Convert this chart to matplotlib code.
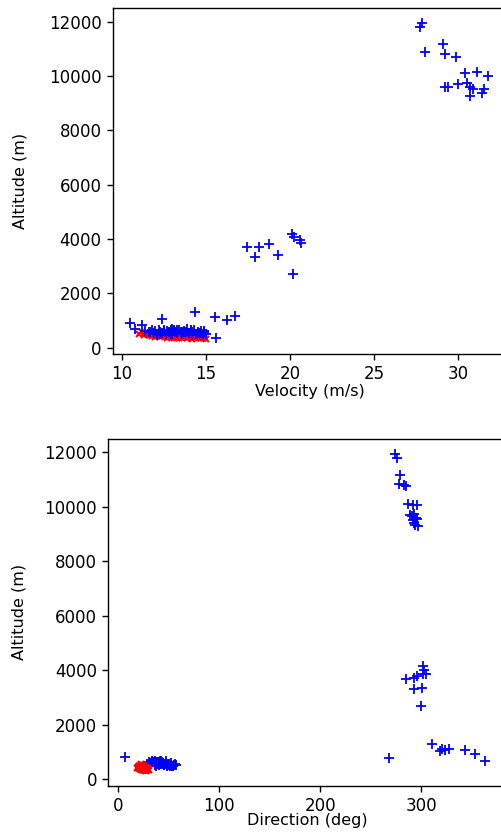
import matplotlib
matplotlib.use("Agg")
import matplotlib.pyplot as plt

# ---------------- data ----------------
# Blue series: upper-air soundings (velocity m/s, altitude m) for the top panel
hi_vel = [27.87, 27.75, 28.0, 29.08, 29.2, 29.86, 30.42, 31.13, 31.79, 29.2, 29.4,
          29.96, 30.51, 30.72, 30.9, 30.72, 31.53, 31.39]
hi_alt_v = [11960, 11815, 10870, 11190, 10800, 10690, 10100, 10135, 10000, 9585, 9605,
            9705, 9730, 9585, 9510, 9265, 9510, 9365]
mid_vel = [20.11, 20.21, 20.6, 20.64, 18.75, 17.46, 18.16, 19.31, 17.92, 20.15]
mid_alt_v = [4173, 4085, 3964, 3842, 3805, 3717, 3717, 3412, 3350, 2700]
low_vel = [10.5, 10.8, 11.2, 12.4, 14.35, 15.55, 16.23, 16.7, 15.6]
low_alt_v = [920, 680, 835, 1070, 1300, 1118, 1020, 1160, 375]

# Blue series for the bottom panel (direction deg, altitude m)
hi_dir = [274, 276, 279, 278, 283, 285, 287, 292, 296, 289, 291, 293, 295, 292, 296,
          294, 297, 293]
hi_alt_d = [11950, 11800, 11150, 10850, 10800, 10750, 10100, 10050, 10050, 9700, 9650,
            9750, 9600, 9500, 9550, 9350, 9300, 9400]
mid_dir = [301.6, 302.7, 302.0, 304.4, 295.4, 293.0, 284.5, 301.0, 292.8, 299.7]
mid_alt_d = [4147, 4025, 3880, 3880, 3780, 3730, 3695, 3365, 3330, 2680]
low_dir = [6.6, 268.3, 310.6, 318.5, 321.0, 323.8, 327.7, 343.6, 353.5, 363.4]
low_alt_d = [820, 780, 1285, 1030, 1110, 1065, 1125, 1065, 930, 660]

# Blue near-surface cluster (shared altitude)
sfc_vel = [11.4, 11.6, 11.8, 11.9, 12.0, 12.1, 12.2, 12.3, 12.4, 12.5, 12.6, 12.7,
           12.8, 12.9, 13.0, 13.1, 13.2, 13.3, 13.4, 13.5, 13.6, 13.7, 13.8, 13.9,
           14.0, 14.1, 14.2, 14.3, 14.4, 14.5, 14.6, 14.7, 14.8, 14.9, 15.0, 12.1,
           12.5, 12.9, 13.3, 13.7, 14.1, 14.5, 14.9, 11.7, 12.3, 13.1, 13.6, 14.2,
           14.7, 13.0]
sfc_dir = [30, 28, 33, 36, 31, 40, 35, 38, 42, 33, 45, 37, 41, 36, 48, 39, 44, 50,
           34, 46, 52, 38, 43, 47, 55, 41, 49, 36, 53, 44, 57, 40, 51, 46, 54, 29,
           39, 48, 35, 50, 42, 45, 52, 32, 37, 43, 47, 51, 56, 41]
sfc_alt = [620, 560, 660, 540, 600, 520, 640, 580, 550, 650, 520, 610, 560, 670,
           500, 630, 590, 540, 650, 560, 510, 620, 580, 680, 530, 600, 560, 640,
           500, 590, 540, 620, 510, 570, 490, 480, 610, 510, 640, 560, 660, 530,
           600, 580, 490, 650, 580, 480, 550, 690]

# Red near-surface series
red_vel = [11.0, 11.2, 11.3, 11.5, 11.6, 11.8, 11.9, 12.0, 12.2, 12.3, 12.4, 12.6,
           12.7, 12.8, 13.0, 13.1, 13.2, 13.4, 13.5, 13.6, 13.8, 13.9, 14.0, 14.2,
           14.3, 14.4, 14.6, 14.7, 14.8, 15.0, 11.4, 11.7, 12.1, 12.5, 12.9, 13.3,
           13.7, 14.1, 14.5, 14.9]
red_dir = [20, 22, 19, 24, 21, 26, 23, 18, 25, 22, 27, 20, 24, 28, 21, 26, 23, 29,
           19, 25, 22, 27, 24, 30, 21, 26, 23, 28, 25, 27, 22, 20, 24, 26, 21, 23,
           25, 28, 22, 24]
red_alt = [500, 560, 450, 520, 470, 430, 490, 400, 460, 380, 440, 420, 360, 410,
           390, 350, 430, 370, 400, 340, 380, 360, 410, 330, 390, 350, 370, 340,
           360, 320, 540, 480, 420, 450, 400, 360, 390, 350, 380, 340]

# ---------------- figure ----------------
plt.rcParams["font.family"] = ["DejaVu Sans"]
fig = plt.figure(figsize=(5.01, 8.32), dpi=100)

fs = 12
lfs = 11.5
blue_kw = dict(linestyle="none", marker="+", color="#0000ff", markersize=7.5, markeredgewidth=1.3)
red_kw = dict(linestyle="none", marker="x", color="#ff0000", markersize=5, markeredgewidth=1.5)

ax1 = fig.add_axes([0.225, 0.5745, 0.787, 0.4159])
ax1.plot(red_vel, red_alt, **red_kw)
ax1.plot(sfc_vel, sfc_alt, **blue_kw)
ax1.plot(low_vel, low_alt_v, **blue_kw)
ax1.plot(mid_vel, mid_alt_v, **blue_kw)
ax1.plot(hi_vel, hi_alt_v, **blue_kw)
ax1.set_xlim(9.46, 32.9)
ax1.set_ylim(-232, 12500)
ax1.set_xticks([10, 15, 20, 25, 30])
ax1.set_yticks([0, 2000, 4000, 6000, 8000, 10000, 12000])
ax1.set_xlabel("Velocity (m/s)", fontsize=lfs)
ax1.set_ylabel("Altitude (m)", fontsize=lfs)
ax1.xaxis.set_label_coords(0.5, -0.087)
ax1.yaxis.set_label_coords(-0.217, 0.5)

ax2 = fig.add_axes([0.2162, 0.0556, 0.796, 0.4168])
ax2.plot(sfc_dir, sfc_alt, **blue_kw)
ax2.plot(low_dir, low_alt_d, **blue_kw)
ax2.plot(mid_dir, mid_alt_d, **blue_kw)
ax2.plot(hi_dir, hi_alt_d, **blue_kw)
ax2.plot(red_dir, red_alt, **red_kw)
ax2.set_xlim(-10, 385)
ax2.set_ylim(-235, 12490)
ax2.set_xticks([0, 100, 200, 300])
ax2.set_yticks([0, 2000, 4000, 6000, 8000, 10000, 12000])
ax2.set_xlabel("Direction (deg)", fontsize=lfs)
ax2.set_ylabel("Altitude (m)", fontsize=lfs)
ax2.xaxis.set_label_coords(0.5, -0.080)
ax2.yaxis.set_label_coords(-0.204, 0.5)

for ax in (ax1, ax2):
    ax.tick_params(labelsize=fs, length=4.5, width=1.0)
    for s in ax.spines.values():
        s.set_linewidth(1.0)

fig.savefig("out.png", dpi=100)
